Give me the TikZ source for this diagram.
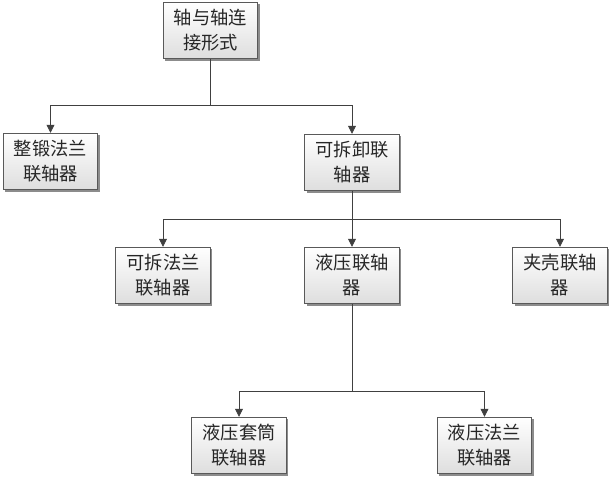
\documentclass[tikz,border=0pt]{standalone}
\usepackage{fontspec}
\newfontfamily\cjk{Noto Sans CJK SC}
\usetikzlibrary{arrows.meta,shadows}
\begin{document}
\begin{tikzpicture}[x=0.75pt,y=-0.75pt,
  box/.style={draw=black!65, line width=0.6pt, top color=white, bottom color=black!13,
    minimum width=71pt, minimum height=42.5pt, inner sep=0pt, align=center,
    font=\cjk\fontsize{13.7pt}{18.75pt}\selectfont, text=black!85,
    drop shadow={shadow xshift=1.4pt, shadow yshift=-1.4pt, fill=black!45, opacity=1}},
  arr/.style={draw=black!75, line width=0.6pt, -{Triangle[length=6pt,width=6pt]}}]
\useasboundingbox (0,0) rectangle (611,479);
\fill[white] (0,0) rectangle (611,479);
\node[box] (b1) at (210.5,30.5) {轴与轴连\\接形式};
\node[box] (b2) at (50.5,161.5) {整锻法兰\\联轴器};
\node[box] (b3) at (352,162.5) {可拆卸联\\轴器};
\node[box] (b4) at (163,275.5) {可拆法兰\\联轴器};
\node[box] (b5) at (352,275.5) {液压联轴\\器};
\node[box] (b6) at (560,275.5) {夹壳联轴\\器};
\node[box] (b7) at (239,445.5) {液压套筒\\联轴器};
\node[box] (b8) at (484.5,445.5) {液压法兰\\联轴器};
\draw[arr] (b1.south) -- (b1.south |- 0,105) -| (b2.north);
\draw[arr] (b1.south) -- (b1.south |- 0,105) -| (b3.north);
\draw[arr] (b3.south) -- (b3.south |- 0,219) -| (b4.north);
\draw[arr] (b3.south) -- (b5.north);
\draw[arr] (b3.south) -- (b3.south |- 0,219) -| (b6.north);
\draw[arr] (b5.south) -- (b5.south |- 0,391) -| (b7.north);
\draw[arr] (b5.south) -- (b5.south |- 0,391) -| (b8.north);
\end{tikzpicture}
\end{document}
